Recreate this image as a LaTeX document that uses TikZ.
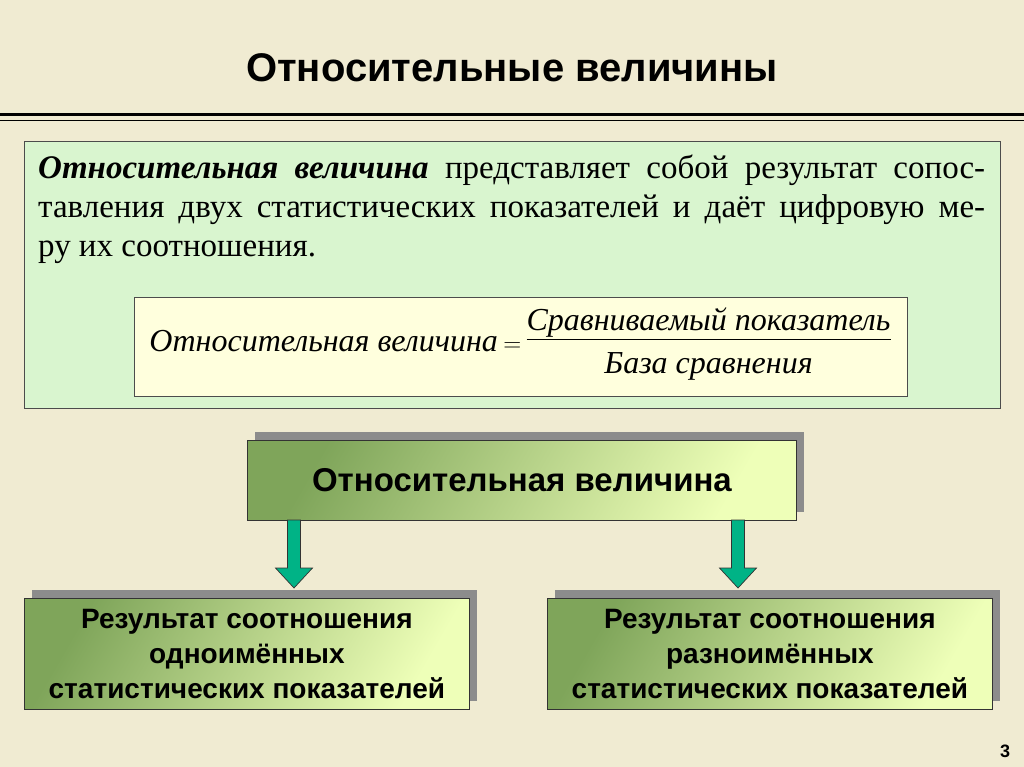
\documentclass[tikz,border=0pt]{standalone}
\usepackage{fontspec}
\setmainfont{Liberation Serif}
\setsansfont{Liberation Sans}
\definecolor{bg}{HTML}{F0EBD2}
\definecolor{lgreen}{HTML}{D9F5CF}
\definecolor{lyel}{HTML}{FFFFDD}
\definecolor{dgreen}{HTML}{7FA55A}
\definecolor{pgreen}{HTML}{EEFFB8}
\definecolor{teal}{HTML}{00B386}
\tikzset{
  gbox/.style={draw=black!80, line width=0.8pt, left color=dgreen, right color=pgreen, shading angle=60},
  shad/.style={fill=black!45},
  garrow/.style={draw=black!80, fill=teal, line width=0.7pt},
}
\newcommand{\downarr}[1]{\draw[garrow] ($(#1)+(-6.5,0)$) -- ++(0,48) -- ++(-12,0) -- ($(#1)+(0,68)$) -- ++(18.5,-20) -- ++(-12,0) -- ++(0,-48) -- cycle;}
\usetikzlibrary{calc}
\begin{document}
\begin{tikzpicture}[x=1pt,y=-1pt]
\fill[bg] (0,0) rectangle (1024,767);
\useasboundingbox (0,0) rectangle (1024,767);
\node[font=\sffamily\bfseries\fontsize{40}{46}\selectfont] (title) at (512,68) {Относительные величины};
\draw[line width=3pt] (0,115) -- (1024,115);
\draw[line width=1pt] (0,121) -- (1024,121);
% definition box
\node[draw=black!70, fill=lgreen, minimum width=976pt, minimum height=267pt, anchor=north west, inner sep=0pt] (def) at (24,141) {};
\node[anchor=north west, text width=947pt, align=justify, inner sep=0pt, font=\fontsize{33}{39}\selectfont] (deftext) at (38,155)
{\textbf{\textit{Относительная величина}} представляет собой результат сопос-\linebreak тавления двух статистических показателей и даёт цифровую ме-\linebreak ру их соотношения.};
\node[draw=black!70, fill=lyel, minimum width=773pt, minimum height=99pt, anchor=north west, inner sep=0pt] (fbox) at (134,297) {};
\node[font=\itshape\fontsize{32}{36}\selectfont, inner sep=0pt] (formula) at (520,345)
{Относительная величина\,$=$\,\begin{tabular}{@{}c@{}}Сравниваемый показатель\\[-2pt]\hline\rule{0pt}{34pt}База сравнения\end{tabular}};
% middle box
\fill[shad] (255,432) rectangle (804,512);
\node[gbox, minimum width=549pt, minimum height=80pt, anchor=north west, inner sep=0pt] (mid) at (247,440) {};
\node[font=\sffamily\bfseries\fontsize{33}{38}\selectfont] (midtext) at (mid.center) {Относительная величина};
% bottom boxes
\fill[shad] (32,590) rectangle (477,701);
\node[gbox, minimum width=445pt, minimum height=111pt, anchor=north west, inner sep=0pt] (left) at (24,598) {};
\node[font=\sffamily\bfseries\fontsize{28}{35}\selectfont, align=center] (lefttext) at (left.center) {Результат соотношения\\одноимённых\\статистических показателей};
\fill[shad] (555,590) rectangle (1000,701);
\node[gbox, minimum width=445pt, minimum height=111pt, anchor=north west, inner sep=0pt] (right) at (547,598) {};
\node[font=\sffamily\bfseries\fontsize{28}{35}\selectfont, align=center] (righttext) at (right.center) {Результат соотношения\\разноимённых\\статистических показателей};
% arrows
\coordinate (s1) at (294,520);
\coordinate (s2) at (738,520);
\downarr{s1}
\downarr{s2}
\node[font=\sffamily\bfseries\fontsize{18}{20}\selectfont] (pg) at (1005,751) {3};
\end{tikzpicture}
\end{document}
